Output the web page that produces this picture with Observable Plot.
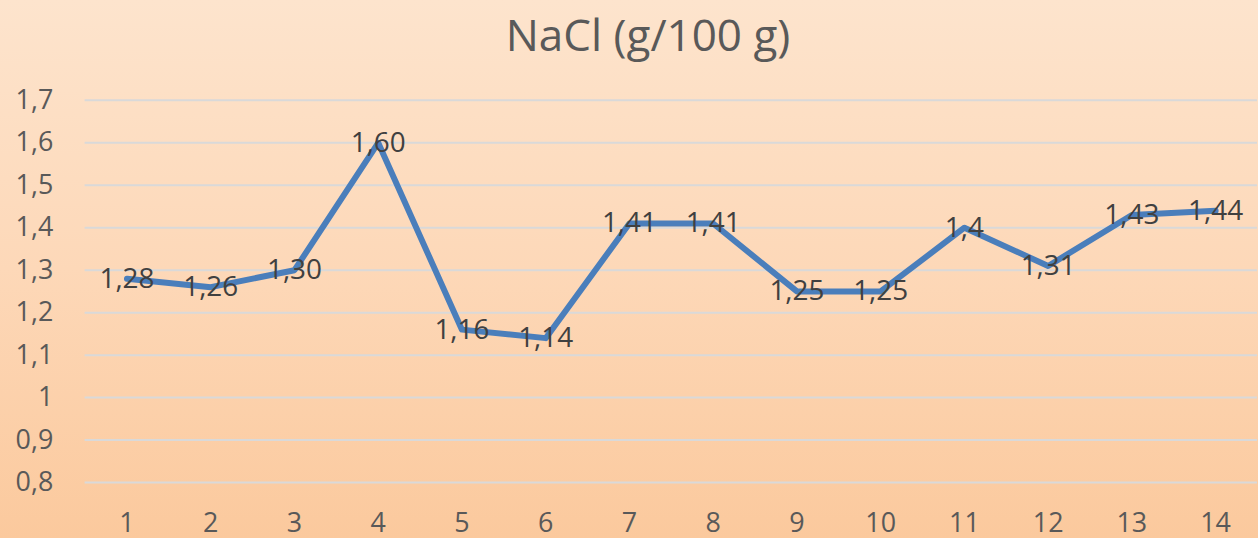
<!DOCTYPE html>
<html>
<head>
<meta charset="utf-8">
<script src="https://cdn.jsdelivr.net/npm/d3@7"></script>
<script src="https://cdn.jsdelivr.net/npm/@observablehq/plot@0.6"></script>
<style>
  html, body { margin: 0; padding: 0; width: 1258px; height: 538px; overflow: hidden; }
  body { background: linear-gradient(to bottom, #fde4cd 0%, #fdd8b8 50%, #fbc99d 100%); font-family: "Open Sans", sans-serif; }
  #title { position: relative; height: 70px; }
  #title span { position: absolute; left: 648px; top: 12px; transform: translateX(-50%); font-size: 44px; line-height: 44px; color: #595959; white-space: nowrap; }
  #chart svg { display: block; overflow: visible; }
</style>
</head>
<body>
<div id="title"><span>NaCl (g/100 g)</span></div>
<div id="chart"></div>
<script>
const samples = [1, 2, 3, 4, 5, 6, 7, 8, 9, 10, 11, 12, 13, 14];
const nacl = [1.28, 1.26, 1.30, 1.60, 1.16, 1.14, 1.41, 1.41, 1.25, 1.25, 1.4, 1.31, 1.43, 1.44];
const pointLabels = ["1,28", "1,26", "1,30", "1,60", "1,16", "1,14", "1,41", "1,41", "1,25", "1,25", "1,4", "1,31", "1,43", "1,44"];
const yTicks = [0.8, 0.9, 1.0, 1.1, 1.2, 1.3, 1.4, 1.5, 1.6, 1.7];
const yTickLabels = ["0,8", "0,9", "1", "1,1", "1,2", "1,3", "1,4", "1,5", "1,6", "1,7"];

const data = samples.map((s, i) => ({ sample: s, value: nacl[i], label: pointLabels[i] }));

const chart = Plot.plot({
  width: 1264,
  height: 468,
  marginTop: 30,
  marginBottom: 54,
  marginLeft: 85,
  marginRight: 1,
  style: { fontFamily: "Open Sans, sans-serif", fontSize: "27px", background: "transparent", color: "#595959" },
  x: { type: "linear", domain: [0.5, 14.5] },
  y: { domain: [0.8, 1.7] },
  marks: [
    Plot.ruleY(yTicks, { stroke: "#d9d9d9", strokeWidth: 2, strokeOpacity: 1 }),
    Plot.axisY({ ticks: yTicks, tickSize: 0, tickPadding: 32, tickFormat: (d) => yTickLabels[yTicks.findIndex(t => Math.abs(t - d) < 1e-9)], label: null, fontSize: 27 }),
    Plot.axisX({ ticks: samples, tickSize: 0, tickPadding: 31, tickFormat: (d) => String(d), label: null, fontSize: 27 }),
    Plot.line(data, { x: "sample", y: "value", stroke: "#4a7ebb", strokeWidth: 6, strokeLinejoin: "round", strokeLinecap: "round" }),
    Plot.text(data, { x: "sample", y: "value", text: "label", fill: "#404040", fontSize: 28, textAnchor: "middle", lineAnchor: "middle" })
  ]
});
document.getElementById("chart").appendChild(chart);
</script>
</body>
</html>
